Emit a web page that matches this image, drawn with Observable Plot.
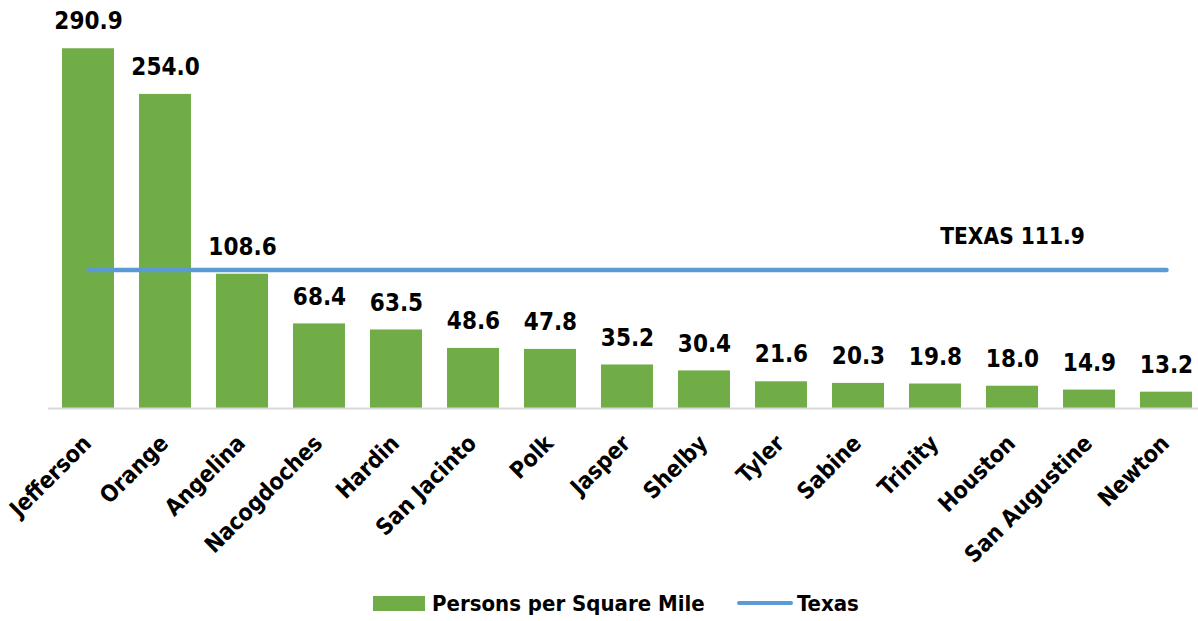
<!DOCTYPE html>
<html>
<head>
<meta charset="utf-8">
<script src="https://cdn.jsdelivr.net/npm/d3@7"></script>
<script src="https://cdn.jsdelivr.net/npm/@observablehq/plot@0.6"></script>
<style>
  html, body { margin: 0; padding: 0; background: #fff; overflow: hidden; }
  #chart svg { display: block; max-width: none !important; }
  .legend { height: 36px; position: relative; font-family: "DejaVu Sans Condensed", "Liberation Sans Narrow", sans-serif; font-weight: bold; font-size: 22px; color: #000; }
  .legend .item { position: absolute; top: 0; height: 36px; display: flex; align-items: center; }
  .legend .sw { width: 52px; height: 15px; background: #70AD47; margin-right: 7px; }
  .legend .ln { width: 56px; height: 4px; border-radius: 2px; background: #5B9BD5; margin-right: 4px; }
</style>
</head>
<body>
<div id="chart"></div>
<div class="legend">
  <div class="item" style="left:373px"><div class="sw"></div><span id="lg1"></span></div>
  <div class="item" style="left:737px"><div class="ln"></div><span id="lg2"></span></div>
</div>
<script>
const counties = ["Jefferson","Orange","Angelina","Nacogdoches","Hardin","San Jacinto","Polk","Jasper","Shelby","Tyler","Sabine","Trinity","Houston","San Augustine","Newton"];
const density = [290.9,254.0,108.6,68.4,63.5,48.6,47.8,35.2,30.4,21.6,20.3,19.8,18.0,14.9,13.2];
const texasValue = 111.9;
const texasLabel = "TEXAS 111.9";
const seriesNames = ["Persons per Square Mile", "Texas"];

const rows = counties.map((c, i) => ({county: c, value: density[i]}));
const font = '"DejaVu Sans Condensed", "Liberation Sans Narrow", sans-serif';

const chart = Plot.plot({
  width: 1206,
  height: 585,
  marginLeft: 48,
  marginRight: 0,
  marginTop: 37,
  marginBottom: 177,
  style: {fontFamily: font, background: "#fff", maxWidth: "none"},
  x: {domain: counties, paddingInner: 0.33, paddingOuter: 0.165, axis: null},
  y: {domain: [0, 300], axis: null},
  marks: [
    Plot.barY(rows, {x: "county", y: "value", fill: "#70AD47"}),
    Plot.ruleY([0], {stroke: "#d9d9d9", strokeWidth: 2.2}),
    Plot.line(counties, {x: d => d, y: () => texasValue, stroke: "#5B9BD5", strokeWidth: 4.5, strokeLinecap: "round"}),
    Plot.text(rows, {x: "county", y: "value", text: d => d.value.toFixed(1), dy: -27, fontSize: 24, fontWeight: "bold", fill: "#000"}),
    Plot.text([texasLabel], {x: () => "Houston", y: () => texasValue, text: d => d, dy: -33, fontSize: 22.5, fontWeight: "bold", fill: "#000"}),
    Plot.text(rows, {x: "county", y: () => 0, text: "county", rotate: -45, textAnchor: "end", dx: -1, dy: 31, fontSize: 23, fontWeight: "bold", fill: "#000"})
  ]
});
document.getElementById("chart").appendChild(chart);
document.getElementById("lg1").textContent = seriesNames[0];
document.getElementById("lg2").textContent = seriesNames[1];
</script>
</body>
</html>
